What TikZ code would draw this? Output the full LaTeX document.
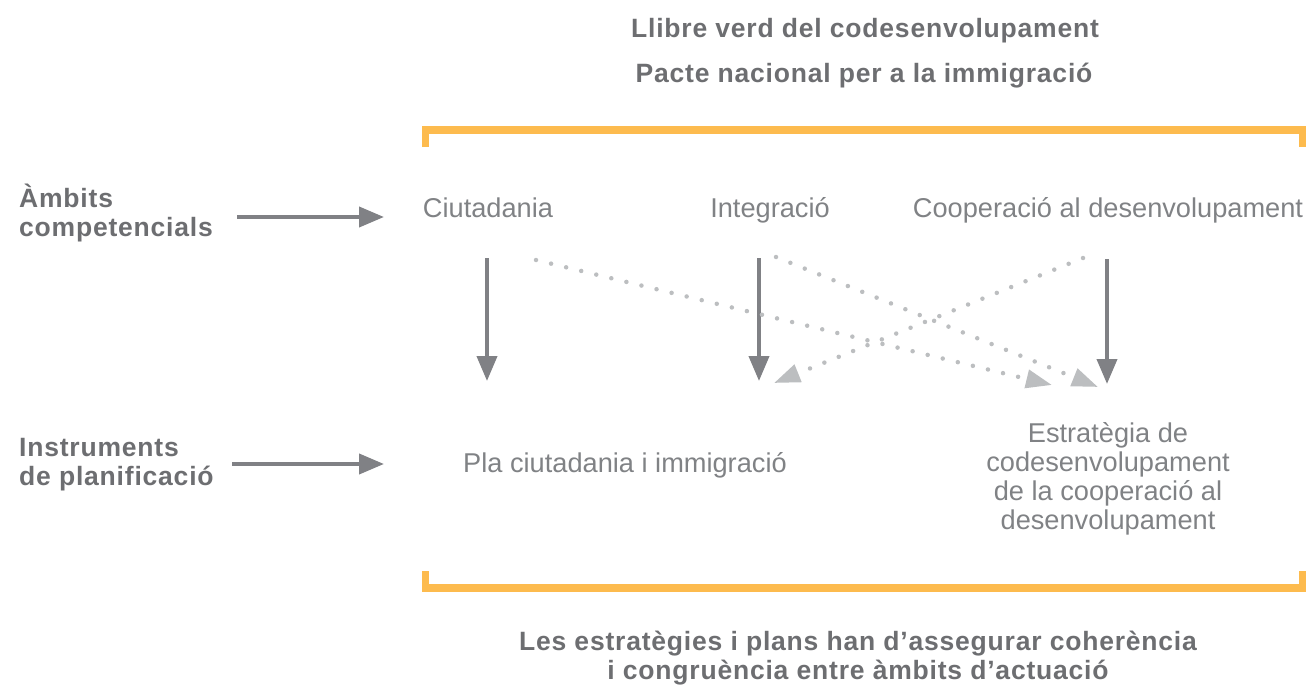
\documentclass[tikz,border=0pt]{standalone}
\usepackage{fontspec}
\setmainfont{Liberation Sans}
\newfontfamily\headfont[LetterSpace=3]{Liberation Sans Bold}
\usetikzlibrary{arrows.meta}
\definecolor{headgray}{RGB}{109,110,113}
\definecolor{lightgray}{RGB}{128,130,133}
\definecolor{arrowgray}{RGB}{128,129,133}
\definecolor{dotgray}{RGB}{188,190,192}
\definecolor{bracketorange}{RGB}{253,187,78}
\tikzset{
  heading/.style={text=headgray, font=\headfont\fontsize{26.5}{29}\selectfont, inner sep=0pt, align=center},
  sidelabel/.style={text=headgray, font=\headfont\fontsize{26.5}{29.5}\selectfont, inner sep=0pt, align=left, anchor=west},
  item/.style={text=lightgray, font=\fontsize{27.2}{29}\selectfont, inner sep=0pt, align=center},
  solidarrow/.style={draw=arrowgray, line width=4pt, -{Triangle[length=25pt,width=20pt]}},
  dotarrow/.style={draw=dotgray, line width=4.5pt, line cap=round, dash pattern=on 0pt off 15.5pt, -{Triangle[length=26pt,width=18pt,fill=dotgray]}},
  bracket/.style={draw=bracketorange, line width=7.5pt, miter limit=10}
}
\begin{document}
\begin{tikzpicture}[x=1pt,y=-1pt]
\useasboundingbox (0,0) rectangle (1308,685);
% headings
\node[heading] (h1) at (865,31) {Llibre verd del codesenvolupament};
\node[heading] (h2) at (864,76) {Pacte nacional per a la immigració};
% brackets
\draw[bracket] (425.5,147) -- (425.5,130) -- (1302.5,130) -- (1302.5,147);
\draw[bracket] (425.5,571) -- (425.5,588) -- (1302.5,588) -- (1302.5,571);
% side labels
\node[sidelabel] (amb) at (19,213) {Àmbits\\competencials};
\node[sidelabel] (ins) at (19,464.5) {Instruments\\de planificació};
\coordinate (a1s) at (237,217);
\coordinate (a1e) at (384,217);
\coordinate (a2s) at (232,464);
\coordinate (a2e) at (384,464);
\draw[solidarrow] (a1s) -- (a1e);
\draw[solidarrow] (a2s) -- (a2e);
% items
\node[item, anchor=base] (ciu) at (488,217.5) {Ciutadania};
\node[item, anchor=base] (int) at (770,217.5) {Integració};
\node[item, anchor=base] (coo) at (1108,217.5) {Cooperació al desenvolupament};
\node[item, anchor=base] (pla) at (625,472) {Pla ciutadania i immigració};
\node[item] (est) at (1108,479) {Estratègia de\\codesenvolupament\\de la cooperació al\\desenvolupament};
% vertical arrows
\coordinate (v1s) at (487,258); \coordinate (v1e) at (487,381);
\coordinate (v2s) at (759,258); \coordinate (v2e) at (759,381);
\coordinate (v3s) at (1107,259); \coordinate (v3e) at (1107,384);
\draw[solidarrow] (v1s) -- (v1e);
\draw[solidarrow] (v2s) -- (v2e);
\draw[solidarrow] (v3s) -- (v3e);
% dotted arrows
\coordinate (d1s) at (536,260); \coordinate (d1e) at (1052,385);
\coordinate (d2s) at (776,257); \coordinate (d2e) at (1098,387);
\coordinate (d3s) at (1083,258); \coordinate (d3e) at (774,383);
\draw[dotarrow] (d1s) -- (d1e);
\draw[dotarrow] (d2s) -- (d2e);
\draw[dotarrow] (d3s) -- (d3e);
% bottom text
\node[heading] (foot) at (858,658) {Les estratègies i plans han d’assegurar coherència\\i congruència entre àmbits d’actuació};
\end{tikzpicture}
\end{document}
